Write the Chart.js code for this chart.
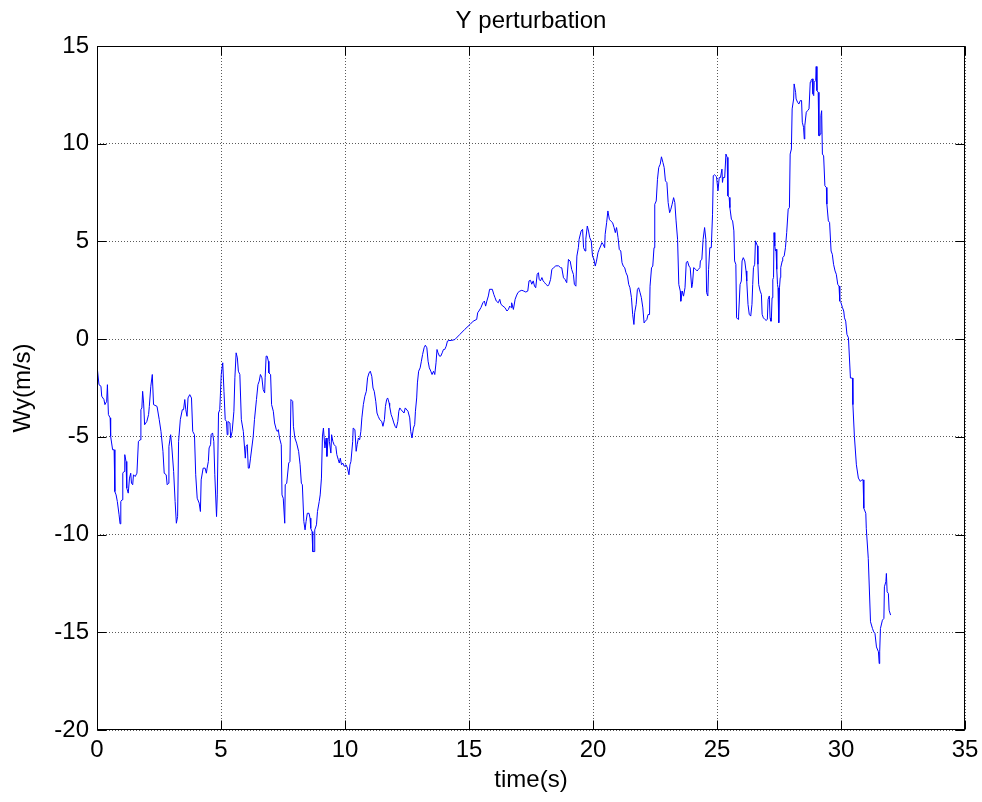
<!DOCTYPE html>
<html>
<head>
<meta charset="utf-8">
<title>Y perturbation</title>
<script src="https://cdn.jsdelivr.net/npm/chart.js@4.4.1/dist/chart.umd.min.js"></script>
<style>
  html, body { margin: 0; padding: 0; background: #fff; }
  #wrap { width: 982px; height: 802px; }
</style>
</head>
<body>
<div id="wrap"><canvas id="chart" width="982" height="802"></canvas></div>
<script>
// time axis (s)
const time = [
  0, 0.01, 0.08, 0.16, 0.19, 0.28, 0.32, 0.39, 0.42, 0.46,
  0.53, 0.55, 0.63, 0.69, 0.72, 0.77, 0.82, 0.89, 0.93, 0.96,
  1.01, 1.04, 1.09, 1.12, 1.17, 1.20, 1.26, 1.31, 1.36, 1.39,
  1.44, 1.47, 1.54, 1.61, 1.67, 1.74, 1.77, 1.81, 1.84, 1.88,
  1.92, 2.01, 2.08, 2.11, 2.17, 2.23, 2.28, 2.42, 2.51, 2.58,
  2.66, 2.71, 2.79, 2.83, 2.89, 2.90, 2.97, 3.02, 3.09, 3.15,
  3.20, 3.25, 3.29, 3.36, 3.44, 3.49, 3.54, 3.58, 3.63, 3.67,
  3.74, 3.81, 3.86, 3.93, 3.98, 4.04, 4.12, 4.17, 4.20, 4.28,
  4.36, 4.41, 4.44, 4.49, 4.52, 4.58, 4.60, 4.66, 4.71, 4.75,
  4.82, 4.85, 4.90, 4.95, 5.01, 5.07, 5.12, 5.17, 5.22, 5.25,
  5.28, 5.36, 5.39, 5.45, 5.52, 5.56, 5.61, 5.66, 5.70, 5.76,
  5.82, 5.90, 5.95, 5.98, 6.01, 6.06, 6.10, 6.14, 6.19,
  6.30, 6.35, 6.43, 6.49, 6.54, 6.59, 6.65, 6.70, 6.76, 6.78,
  6.82, 6.86, 6.91, 6.93, 7.00, 7.04, 7.11, 7.16, 7.23, 7.27,
  7.31, 7.36, 7.43, 7.46, 7.51, 7.57, 7.59, 7.65, 7.73, 7.78,
  7.82, 7.89, 7.92, 7.98, 8.05, 8.13, 8.19, 8.24, 8.28, 8.34,
  8.39, 8.43, 8.48, 8.55, 8.59, 8.62, 8.67, 8.70, 8.75, 8.78,
  8.85, 8.89, 8.96, 9.00, 9.05, 9.09, 9.13, 9.19, 9.24, 9.27,
  9.32, 9.35, 9.37, 9.43, 9.46, 9.51, 9.56, 9.63, 9.67, 9.73,
  9.77, 9.81, 9.86, 9.91, 9.97, 10.04, 10.10, 10.16, 10.20, 10.24,
  10.31, 10.33, 10.40, 10.45, 10.49, 10.54, 10.59, 10.64, 10.68, 10.74,
  10.80, 10.86, 10.91, 10.97, 11.02, 11.08, 11.13, 11.18, 11.24, 11.29,
  11.34, 11.40, 11.48, 11.53, 11.59, 11.63, 11.68, 11.72, 11.78, 11.80,
  11.86, 11.91, 11.97, 12.02, 12.07, 12.13, 12.17, 12.21, 12.26,
  12.38, 12.43, 12.54, 12.61, 12.65, 12.70, 12.76, 12.81, 12.84, 12.89,
  12.92, 12.97, 13.03, 13.08, 13.13, 13.19, 13.24, 13.30, 13.35, 13.40,
  13.46, 13.51, 13.57, 13.62, 13.67, 13.71, 13.75, 13.81, 13.86, 13.92,
  13.97, 14.02, 14.08, 14.13, 14.19, 14.29, 14.43, 14.63, 14.83, 15.04,
  15.17, 15.31, 15.35, 15.40, 15.48, 15.56, 15.62, 15.67, 15.72, 15.78,
  15.83, 15.94, 16.00, 16.05, 16.10, 16.18, 16.24, 16.29, 16.37, 16.45,
  16.53, 16.59, 16.64, 16.70, 16.72, 16.79, 16.86, 16.91, 16.97, 17.05,
  17.13, 17.21, 17.29, 17.37, 17.42, 17.48, 17.53, 17.59, 17.64, 17.69,
  17.75, 17.80, 17.83, 17.88, 17.94, 17.99, 18.05, 18.10, 18.18, 18.23,
  18.29, 18.34, 18.42, 18.50, 18.61, 18.69,
  18.74, 18.81, 18.87, 18.94, 19.01, 19.08, 19.14, 19.21, 19.25, 19.31,
  19.35, 19.41, 19.44, 19.52, 19.58, 19.62, 19.68, 19.71, 19.77, 19.82,
  19.87, 19.93, 19.98, 20.04, 20.09, 20.14, 20.20, 20.25, 20.31, 20.36,
  20.41, 20.47, 20.49, 20.55, 20.60, 20.66, 20.71, 20.79, 20.85, 20.90,
  20.95, 21.01, 21.06, 21.12, 21.17, 21.22, 21.28, 21.33, 21.39, 21.44,
  21.49, 21.55, 21.60, 21.65, 21.68, 21.74, 21.79, 21.84, 21.90, 21.95,
  22.01, 22.06, 22.11, 22.17, 22.22, 22.28, 22.30, 22.36, 22.41, 22.46,
  22.49, 22.55, 22.60, 22.65, 22.71, 22.76, 22.82, 22.87, 22.92, 22.98,
  23.03, 23.09, 23.14, 23.19, 23.25, 23.30, 23.35, 23.41, 23.46, 23.52,
  23.54, 23.60, 23.65, 23.71, 23.76, 23.81, 23.87, 23.92, 23.98,
  24.01, 24.06, 24.14, 24.20, 24.25, 24.31, 24.33, 24.39, 24.44, 24.50,
  24.55, 24.58, 24.63, 24.66, 24.71, 24.77, 24.82, 24.85, 24.90, 24.98,
  25.04, 25.09, 25.14, 25.20, 25.22, 25.25, 25.31, 25.36, 25.41, 25.44,
  25.49, 25.52, 25.58, 25.63, 25.68, 25.71, 25.76, 25.79, 25.85, 25.87,
  25.93, 25.98, 26.01, 26.06, 26.12, 26.17, 26.20, 26.25, 26.30, 26.36,
  26.41, 26.44, 26.47, 26.52, 26.55, 26.57, 26.63, 26.65, 26.68, 26.74,
  26.79, 26.82, 26.87, 26.93, 26.98, 27.03, 27.06, 27.11, 27.14, 27.17,
  27.19, 27.22, 27.25, 27.28, 27.30, 27.33, 27.36, 27.38, 27.41, 27.44,
  27.46, 27.49, 27.52, 27.55, 27.57, 27.63, 27.65, 27.71, 27.76, 27.81,
  27.87, 27.92, 27.95, 28.00, 28.03, 28.09, 28.11, 28.17, 28.19, 28.25,
  28.30, 28.36, 28.41, 28.44, 28.49, 28.52, 28.54, 28.60, 28.65, 28.71,
  28.76, 28.79, 28.84, 28.87, 28.90, 28.92, 28.98, 29.00, 29.03, 29.08,
  29.11, 29.14, 29.16, 29.19, 29.22, 29.25, 29.30, 29.35, 29.41, 29.43,
  29.49, 29.54, 29.60, 29.65, 29.70, 29.76, 29.81, 29.87, 29.92, 29.95,
  30.00, 30.06, 30.11, 30.14, 30.19, 30.24, 30.30,
  30.38, 30.46, 30.48, 30.54, 30.62, 30.70, 30.78, 30.84, 30.89, 30.92,
  31.00, 31.02, 31.10, 31.19, 31.27, 31.32, 31.37, 31.43, 31.51, 31.54,
  31.56, 31.59, 31.67, 31.73, 31.75, 31.81, 31.83, 31.86, 31.91, 31.94, 32.00
];

// Wy (m/s) at each time
const wy = [
  0.0, -1.47, -2.33, -2.41, -2.92, -3.09, -3.35, -3.18, -2.33, -3.86,
  -4.03, -4.97, -5.66, -5.66, -7.80, -7.97, -8.31, -8.99, -9.45, -8.31,
  -8.22, -6.86, -6.77, -5.91, -6.26, -7.62, -7.88, -7.11, -6.86, -7.37,
  -7.45, -6.94, -7.03, -6.86, -5.23, -5.15, -3.61, -3.52, -2.67, -3.27,
  -4.38, -4.21, -3.86, -3.44, -2.41, -1.81, -3.35, -3.44, -4.12, -4.72,
  -5.74, -6.86, -6.94, -7.45, -7.37, -5.49, -4.89, -5.57, -6.77, -8.31,
  -9.42, -9.08, -5.23, -4.12, -3.61, -3.61, -3.09, -3.61, -3.95, -3.01,
  -2.84, -3.01, -4.72, -4.89, -6.94, -8.14, -8.39, -8.82, -7.20, -6.60,
  -6.60, -6.86, -6.60, -6.26, -5.57, -5.40, -4.89, -4.80, -5.23, -6.94,
  -9.08, -7.97, -3.78, -3.61, -1.81, -1.21, -2.67, -4.12, -4.21, -4.89,
  -4.21, -4.29, -5.06, -4.72, -3.69, -1.98, -0.70, -0.96, -1.64, -1.81,
  -4.12, -4.72, -5.57, -6.09, -5.49, -5.40, -6.60, -6.60, -6.09,
  -4.97, -4.12, -3.09, -2.33, -2.15, -1.81, -1.98, -2.58, -2.75, -1.98,
  -0.87, -0.87, -1.13, -1.73, -1.81, -3.35, -3.69, -4.29, -4.63, -4.72,
  -4.63, -5.06, -5.40, -7.97, -8.14, -9.42, -7.45, -7.37, -6.34, -6.26,
  -3.09, -3.18, -4.46, -5.06, -5.32, -5.74, -6.43, -7.37, -7.45, -9.33,
  -9.76, -9.33, -8.91, -8.91, -9.16, -9.68, -9.85, -10.87, -10.87, -9.76,
  -9.50, -8.82, -8.31, -7.97, -7.11, -4.97, -4.55, -5.57, -5.06, -6.00,
  -5.06, -4.55, -5.23, -5.83, -4.89, -5.23, -5.40, -5.49, -5.91, -6.17,
  -6.34, -6.09, -6.43, -6.34, -6.51, -6.43, -6.60, -6.94, -6.43, -6.26,
  -5.23, -4.55, -4.63, -5.74, -5.40, -5.06, -5.15, -4.72, -4.03, -3.35,
  -2.92, -2.67, -1.98, -1.73, -1.64, -1.90, -2.50, -2.67, -3.18, -3.78,
  -3.95, -4.12, -4.21, -4.46, -4.12, -3.44, -3.09, -3.01, -3.27, -3.44,
  -3.86, -4.03, -4.29, -4.46, -4.55, -4.21, -3.69, -3.52, -3.61,
  -3.78, -3.52, -3.69, -4.03, -4.72, -5.06, -4.55, -4.37, -3.69, -3.01,
  -2.24, -1.64, -1.47, -1.13, -0.78, -0.44, -0.31, -0.44, -1.13, -1.47,
  -1.64, -1.81, -1.64, -1.81, -1.21, -0.53, -0.70, -0.87, -0.87, -0.70,
  -0.53, -0.53, -0.36, -0.10, -0.07, -0.07, -0.02, 0.24, 0.50, 0.75,
  0.92, 1.01, 1.35, 1.44, 1.61, 1.86, 1.95, 1.69, 1.95, 2.21,
  2.55, 2.55, 2.29, 2.12, 1.95, 1.86, 2.04, 1.78, 1.69, 1.61,
  1.44, 1.52, 1.69, 1.61, 1.86, 1.52, 2.04, 2.21, 2.38, 2.46,
  2.50, 2.46, 2.41, 2.46, 2.98, 3.01, 2.81, 2.98, 2.72, 2.63,
  3.32, 3.40, 3.06, 2.98, 3.15, 2.98, 2.89, 2.81, 2.72, 2.81,
  3.06, 3.57, 3.66, 3.75, 3.75, 3.66,
  3.65, 3.14, 3.06, 2.89, 4.08, 3.99, 3.57, 3.31, 2.80, 2.71,
  4.25, 4.68, 5.11, 5.53, 5.62, 4.68, 4.51, 5.11, 5.79, 5.53,
  5.19, 5.02, 4.25, 4.08, 3.74, 3.99, 4.42, 4.59, 4.77, 4.94,
  4.85, 4.68, 5.36, 5.96, 6.56, 6.13, 6.05, 5.96, 5.71, 5.45,
  5.71, 5.19, 4.59, 4.51, 3.91, 3.74, 3.65, 3.40, 3.23, 2.80,
  2.63, 2.12, 1.26, 0.75, 1.35, 1.77, 2.54, 2.63, 2.37, 2.12,
  1.60, 0.83, 0.92, 1.00, 1.26, 1.26, 2.71, 3.65, 3.74, 4.68,
  6.90, 7.07, 8.18, 8.78, 8.95, 9.33, 9.04, 8.78, 8.10, 8.01,
  6.99, 6.47, 6.65, 6.90, 7.24, 6.99, 6.05, 5.11, 2.80, 2.46,
  1.94, 2.46, 2.20, 2.63, 3.91, 3.99, 3.74, 3.65, 2.63,
  2.80, 3.66, 3.57, 3.49, 3.57, 3.66, 4.00, 4.09, 5.11, 5.71,
  5.11, 2.38, 2.21, 3.57, 4.68, 4.68, 6.39, 8.36, 8.41, 8.31,
  7.59, 8.27, 8.27, 8.70, 8.02, 8.27, 8.27, 9.47, 9.30, 7.33,
  7.25, 6.73, 6.14, 6.05, 5.54, 4.00, 3.83, 1.09, 1.01, 1.18,
  2.80, 2.97, 4.00, 4.17, 4.00, 3.49, 2.97, 1.78, 1.27, 1.18,
  1.78, 2.80, 3.66, 3.83, 5.03, 5.03, 4.77, 3.83, 2.80, 2.46,
  2.29, 1.27, 1.09, 1.01, 0.96, 1.01, 2.03, 2.21, 1.09, 0.92,
  0.92, 2.12, 3.06, 3.15, 5.45, 4.77, 4.51, 4.60, 3.57, 2.80,
  2.63, 0.84, 2.63, 3.15, 3.66, 4.00, 4.17, 4.26, 4.68, 5.45,
  6.65, 6.73, 9.47, 9.73, 11.78, 12.29, 13.06, 12.63, 12.29, 12.12,
  12.03, 12.21, 12.21, 11.10, 10.84, 10.24, 10.92, 11.61, 11.69, 11.78,
  13.15, 13.23, 13.32, 12.55, 12.46, 13.15, 13.23, 13.95, 12.72, 12.63,
  10.41, 10.41, 10.50, 11.44, 11.69, 9.47, 9.38, 7.85, 7.76, 6.91,
  6.05, 5.97, 4.51, 4.34, 3.83, 3.49, 3.32, 2.80, 2.72, 1.95,
  1.86, 1.61, 1.44, 1.09, 0.92, 0.24, 0.07,
  -1.99, -1.99, -3.35, -4.98, -6.43, -7.11, -7.28, -7.20, -7.20, -8.65,
  -8.91, -9.68, -11.22, -14.46, -14.81, -14.98, -15.06, -15.75, -16.00, -16.60,
  -16.00, -14.81, -14.38, -14.29, -12.67, -12.41, -11.99, -12.93, -13.01, -13.87, -14.12
];

const xTicks = [0, 5, 10, 15, 20, 25, 30, 35];
const yTicks = [-20, -15, -10, -5, 0, 5, 10, 15];

const FONT = 'Arial, "Liberation Sans", Helvetica, sans-serif';
const TICK_LEN = 9;

// matlab style frame: full box, inward ticks, title above the axes
const matlabFrame = {
  id: 'matlabFrame',
  afterDraw(chart) {
    const { ctx, chartArea: a, scales } = chart;
    const L = Math.round(a.left) + 0.5, R = Math.round(a.right) - 0.5;
    const T = Math.round(a.top) + 0.5, B = Math.round(a.bottom) - 0.5;
    ctx.save();
    ctx.strokeStyle = '#000';
    ctx.lineWidth = 1;
    ctx.strokeRect(L, T, R - L, B - T);
    ctx.beginPath();
    xTicks.forEach(v => {
      const px = Math.round(scales.x.getPixelForValue(v)) + 0.5;
      ctx.moveTo(px, B); ctx.lineTo(px, B - TICK_LEN);
      ctx.moveTo(px, T); ctx.lineTo(px, T + TICK_LEN);
    });
    yTicks.forEach(v => {
      const py = Math.round(scales.y.getPixelForValue(v)) + 0.5;
      ctx.moveTo(L, py); ctx.lineTo(L + TICK_LEN, py);
      ctx.moveTo(R, py); ctx.lineTo(R - TICK_LEN, py);
    });
    ctx.stroke();

    ctx.fillStyle = '#000';
    ctx.font = '24px ' + FONT;
    ctx.textAlign = 'center';
    ctx.textBaseline = 'alphabetic';
    ctx.fillText('Y perturbation', (a.left + a.right) / 2, 28);
    ctx.restore();
  }
};

new Chart(document.getElementById('chart'), {
  type: 'line',
  data: {
    datasets: [{
      label: 'Wy',
      data: time.map((t, i) => ({ x: t, y: wy[i] })),
      borderColor: '#0000ff',
      borderWidth: 1,
      pointRadius: 0,
      tension: 0,
      fill: false
    }]
  },
  options: {
    responsive: false,
    animation: false,
    layout: { padding: { top: 46, right: 17, left: 0, bottom: 0 } },
    plugins: {
      legend: { display: false },
      tooltip: { enabled: false }
    },
    scales: {
      x: {
        type: 'linear',
        min: xTicks[0],
        max: xTicks[xTicks.length - 1],
        afterBuildTicks: s => { s.ticks = xTicks.map(v => ({ value: v })); },
        afterFit: s => { s.height = 72; s.paddingLeft = 0; s.paddingRight = 0; },
        grid: { color: '#5a5a5a', lineWidth: 1, drawTicks: false },
        border: { display: false, dash: [1, 2] },
        ticks: { color: '#000', font: { family: FONT, size: 24 }, padding: 6, maxRotation: 0 },
        title: {
          display: true, text: 'time(s)', color: '#000',
          font: { family: FONT, size: 24 }, padding: { top: 0, bottom: 7 }
        }
      },
      y: {
        type: 'linear',
        min: yTicks[0],
        max: yTicks[yTicks.length - 1],
        afterBuildTicks: s => { s.ticks = yTicks.map(v => ({ value: v })); },
        afterFit: s => { s.width = 97; s.paddingTop = 0; s.paddingBottom = 0; },
        grid: { color: '#5a5a5a', lineWidth: 1, drawTicks: false },
        border: { display: false, dash: [1, 2] },
        ticks: { color: '#000', font: { family: FONT, size: 24 }, padding: 8 },
        title: {
          display: true, text: 'Wy(m/s)', color: '#000',
          font: { family: FONT, size: 24 }, padding: { top: 9, bottom: 0 }
        }
      }
    }
  },
  plugins: [matlabFrame]
});
</script>
</body>
</html>
